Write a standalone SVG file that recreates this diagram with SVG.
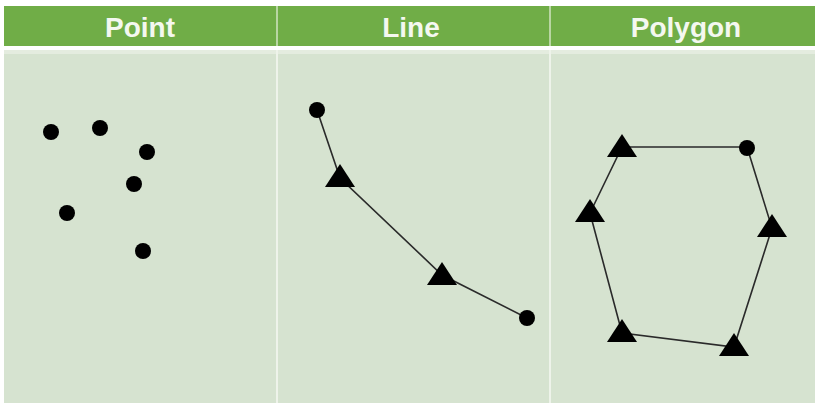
<svg xmlns="http://www.w3.org/2000/svg" width="815" height="403" viewBox="0 0 815 403">
<defs>
<style>
.hdr{fill:#70AD47}
.body{fill:#D6E3D0}
.ttl{font-family:"Liberation Sans",Arial,sans-serif;font-weight:bold;font-size:28px;fill:#F4F8F0;text-anchor:middle}
.pt{fill:#000}
.edge{fill:none;stroke:#2a2a2a;stroke-width:1.6}
</style>
<path id="tri" d="M0,-14 L15,9 L-15,9 Z" fill="#000"/>
</defs>
<rect x="0" y="0" width="815" height="403" fill="#fff"/>
<g id="headers">
<rect class="hdr" x="4" y="6" width="811" height="40"/>
<rect x="276" y="6" width="2" height="40" fill="#B9D6A3"/>
<rect x="549" y="6" width="2" height="40" fill="#B9D6A3"/>
<text class="ttl" x="140" y="37">Point</text>
<text class="ttl" x="411" y="37">Line</text>
<text class="ttl" x="686" y="37">Polygon</text>
</g>
<g id="panels">
<rect class="body" x="4" y="50" width="811" height="353"/>
<rect x="4" y="50" width="811" height="4" fill="#E4ECDF"/>
<rect x="276" y="50" width="2" height="353" fill="#EEF3EA"/>
<rect x="549" y="50" width="2" height="353" fill="#EEF3EA"/>
</g>
<g id="connectors">
<polyline class="edge" points="317,110 340,178 442,275 527,318"/>
<polygon class="edge" points="622,147 747,147 772,228 734,347 622,333 590,213"/>
</g>
<g id="point-nodes">
<circle class="pt" cx="51" cy="132" r="8"/>
<circle class="pt" cx="100" cy="128" r="8"/>
<circle class="pt" cx="147" cy="152" r="8"/>
<circle class="pt" cx="134" cy="184" r="8"/>
<circle class="pt" cx="67" cy="213" r="8"/>
<circle class="pt" cx="143" cy="251" r="8"/>
</g>
<g id="line-nodes">
<circle class="pt" cx="317" cy="110" r="8"/>
<use href="#tri" x="340" y="178"/>
<use href="#tri" x="442" y="276"/>
<circle class="pt" cx="527" cy="318" r="8"/>
</g>
<g id="polygon-nodes">
<use href="#tri" x="622" y="148"/>
<circle class="pt" cx="747" cy="148" r="8"/>
<use href="#tri" x="772" y="228"/>
<use href="#tri" x="734" y="347"/>
<use href="#tri" x="622" y="333"/>
<use href="#tri" x="590" y="213"/>
</g>
</svg>
